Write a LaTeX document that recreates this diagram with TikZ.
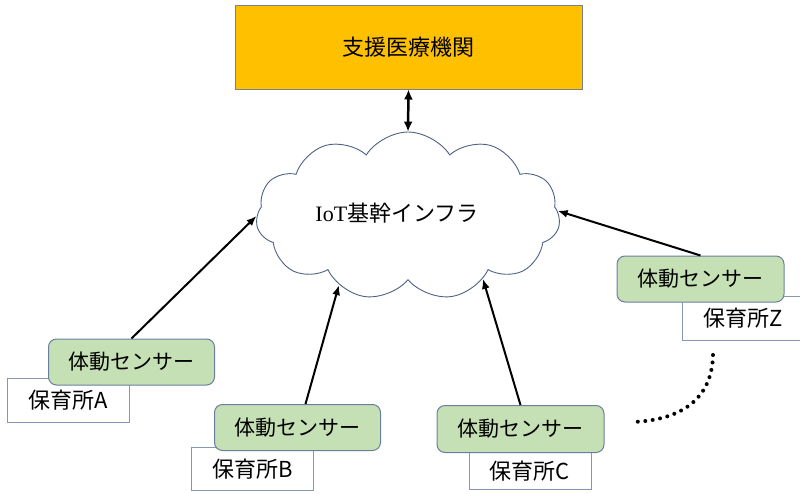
\documentclass[tikz,border=0pt]{standalone}
\usepackage{fontspec}
\setmainfont{Liberation Serif}
\newfontfamily\jp{Noto Sans CJK JP}
\usetikzlibrary{shapes.symbols,arrows.meta}
\definecolor{orgfill}{HTML}{FFC000}
\definecolor{orgline}{HTML}{7A7F8A}
\definecolor{sensorfill}{HTML}{C5E0B4}
\definecolor{sensorline}{HTML}{6A7FA0}
\definecolor{siteline}{HTML}{8497B8}
\definecolor{cloudline}{HTML}{4E6288}
\begin{document}
\begin{tikzpicture}[x=1pt,y=-1pt,
  sensor/.style={font=\jp\fontsize{21}{25}\selectfont, draw=sensorline, fill=sensorfill,
    rounded corners=8pt, minimum width=166pt, minimum height=46pt, inner sep=0pt,
    line width=1pt},
  site/.style={font=\jp\fontsize{22}{26}\selectfont, draw=siteline, fill=white,
    minimum width=122pt, minimum height=44pt, inner sep=0pt, line width=0.8pt},
  link/.style={-{Latex[length=10pt,width=8pt]}, line width=2pt}
]
\useasboundingbox (0,0) rectangle (800,493);

% support institution
\node[draw=orgline, fill=orgfill, line width=1pt, minimum width=347pt,
  minimum height=84pt, inner sep=0pt, font=\jp\fontsize{22}{26}\selectfont]
  (org) at (408.5,47) {支援医療機関};

% backbone cloud
\node[cloud, cloud puffs=11, cloud puff arc=115, aspect=1.85, draw=cloudline,
  fill=white, line width=0.9pt, minimum width=304pt, minimum height=168pt,
  inner sep=0pt] (cl) at (408,216) {};
\node[font=\fontsize{22}{26}\selectfont] (cltext) at (397,213) {IoT{\jp 基幹インフラ}};

% nursery sites (drawn first, sensors overlap them)
\node[site] (lA) at (68.5,400) {保育所A};
\node[site, minimum height=43pt] (lB) at (252.5,469) {保育所B};
\node[site, minimum height=37pt] (lC) at (530,471) {保育所C};
\node[site, minimum width=123pt] (lZ) at (743.5,318) {保育所Z};

% motion sensors
\node[sensor] (sA) at (131.5,362) {体動センサー};
\node[sensor] (sB) at (297.5,427.5) {体動センサー};
\node[sensor, minimum width=167pt, minimum height=47pt] (sC) at (520.5,429) {体動センサー};
\node[sensor, minimum width=167pt] (sZ) at (700.5,279) {体動センサー};

% connections
\draw[{Latex[length=10pt,width=9pt]}-{Latex[length=10pt,width=9pt]}, line width=2.5pt]
  (org.south) -- (cl.90);
\draw[link] (sA.north) -- (cl.180);
\draw[link] ([xshift=8pt]sB.north) -- (cl.225);
\draw[link] (sC.north) -- (cl.320);
\draw[link] (sZ.north) -- (cl.2);

% further sites
\coordinate (dotS) at (713,355);
\coordinate (dotE) at (633,422);
\draw[line width=4pt, line cap=round, dash pattern=on 0pt off 7.5pt]
  (dotS) .. controls (712,400) and (680,420) .. (dotE);
\end{tikzpicture}
\end{document}
